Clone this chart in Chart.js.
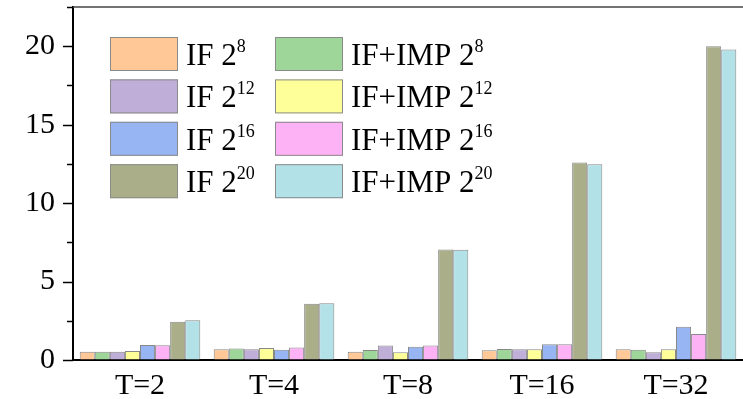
<!DOCTYPE html>
<html><head><meta charset="utf-8">
<script src="https://cdn.jsdelivr.net/npm/chart.js@4/dist/chart.umd.min.js"></script>
<style>html,body{margin:0;padding:0;background:#fff;overflow:hidden}#wrap{width:743px;height:399px;position:relative}</style>
</head><body><div id="wrap"><canvas id="c" width="743" height="399"></canvas></div>
<script>
// ---- data ----
const categories = ['T=2', 'T=4', 'T=8', 'T=16', 'T=32'];
const seriesBase = ['IF 2', 'IF+IMP 2', 'IF 2', 'IF+IMP 2', 'IF 2', 'IF+IMP 2', 'IF 2', 'IF+IMP 2'];
const seriesExp  = ['8', '8', '12', '12', '16', '16', '20', '20'];
const if8   = [0.53, 0.68, 0.53, 0.62, 0.68];
const imp8  = [0.53, 0.74, 0.64, 0.70, 0.66];
const if12  = [0.53, 0.68, 0.93, 0.68, 0.49];
const imp12 = [0.57, 0.76, 0.49, 0.68, 0.68];
const if16  = [0.96, 0.66, 0.84, 1.00, 2.12];
const imp16 = [0.94, 0.79, 0.93, 1.00, 1.66];
const if20  = [2.44, 3.59, 7.05, 12.59, 20.00];
const imp20 = [2.53, 3.61, 7.03, 12.48, 19.79];
const yTickLabels = [0, 5, 10, 15, 20];

const seriesValues = [if8, imp8, if12, imp12, if16, imp16, if20, imp20];
const colors = ['#FFC896', '#9ED69A', '#BFAED8', '#FFFF9A', '#96B5F2', '#FDB2F6', '#AAAF8A', '#B2E2E8'];
const FONT = "'Liberation Serif','Times New Roman',serif";

const decor = {
  id: 'decor',
  afterDraw(chart) {
    const ctx = chart.ctx, y = chart.scales.y, a = chart.chartArea;
    ctx.save();
    ctx.strokeStyle = '#444'; ctx.lineWidth = 1.5;
    ctx.beginPath(); ctx.moveTo(a.left, a.top); ctx.lineTo(a.right, a.top); ctx.stroke();
    ctx.strokeStyle = '#000'; ctx.lineWidth = 1.5;
    y.ticks.forEach(t => {
      const py = Math.round(y.getPixelForValue(t.value)) + 0.5;
      const major = yTickLabels.includes(t.value);
      ctx.beginPath(); ctx.moveTo(a.left - (major ? 10 : 6), py); ctx.lineTo(a.left, py); ctx.stroke();
    });
    // legend (2 columns)
    const colX = [110, 275], top0 = 37, rowH = 42.4, sw = 68, sh = 34;
    chart.data.datasets.forEach((ds, i) => {
      const col = i % 2, row = Math.floor(i / 2);
      const x = colX[col], yy = top0 + row * rowH;
      ctx.fillStyle = ds.backgroundColor;
      ctx.fillRect(x, yy, sw, sh);
      ctx.strokeStyle = '#8a8a8a'; ctx.lineWidth = 1;
      ctx.strokeRect(x + 0.5, yy + 0.5, sw - 1, sh - 1);
      ctx.fillStyle = '#000';
      ctx.textBaseline = 'alphabetic'; ctx.textAlign = 'left';
      ctx.font = '31px ' + FONT;
      const tx = x + sw + 8;
      ctx.fillText(seriesBase[i], tx, yy + 28);
      const w = ctx.measureText(seriesBase[i]).width;
      ctx.font = '18px ' + FONT;
      ctx.fillText(seriesExp[i], tx + w, yy + 15);
    });
    ctx.restore();
  }
};

new Chart(document.getElementById('c'), {
  type: 'bar',
  data: {
    labels: categories,
    datasets: seriesValues.map((v, i) => ({
      label: seriesBase[i] + seriesExp[i],
      data: v,
      backgroundColor: colors[i],
      borderColor: '#888888',
      borderWidth: 1,
      barPercentage: 1.0,
      categoryPercentage: 0.9
    }))
  },
  options: {
    responsive: false,
    animation: false,
    devicePixelRatio: 1,
    layout: { padding: { top: 7, left: 0, right: 0, bottom: 0 } },
    plugins: { legend: { display: false }, tooltip: { enabled: false } },
    scales: {
      x: {
        afterFit: s => { s.height = 39; s.paddingLeft = 0; s.paddingRight = 0; },
        grid: { display: true, drawOnChartArea: false, drawTicks: false },
        border: { display: true, color: '#000', width: 2 },
        ticks: { color: '#000', font: { family: FONT, size: 30 }, padding: 8, maxRotation: 0 }
      },
      y: {
        min: 0, max: 22.5,
        afterFit: s => { s.width = 73; s.paddingTop = 0; s.paddingBottom = 0; },
        grid: { display: true, drawOnChartArea: false, drawTicks: false },
        border: { display: true, color: '#000', width: 2 },
        ticks: {
          stepSize: 2.5, autoSkip: false, color: '#000', padding: 18,
          font: { family: FONT, size: 30 },
          callback: v => yTickLabels.includes(v) ? String(v) : ''
        }
      }
    }
  },
  plugins: [decor]
});
</script></body></html>
